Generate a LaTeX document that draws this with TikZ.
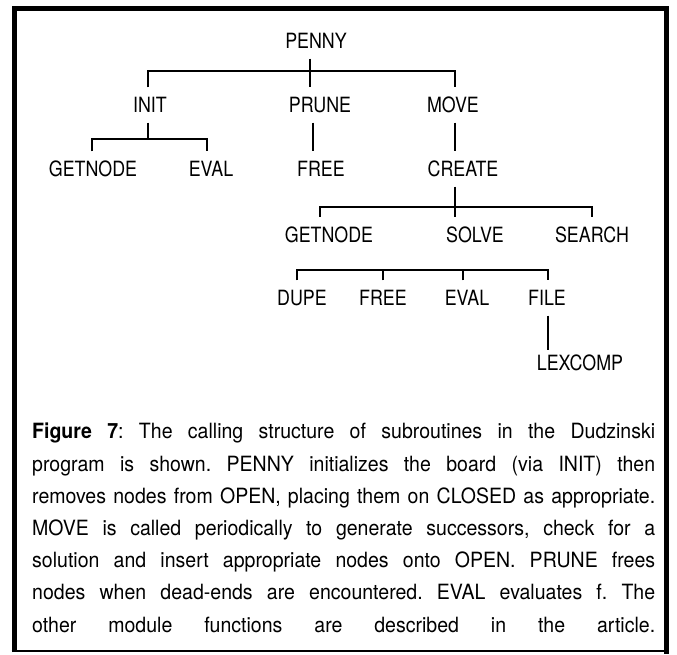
\documentclass[tikz,border=0pt]{standalone}
\usepackage{fontspec}
\newfontfamily\treefont[FakeStretch=0.85]{TeX Gyre Heros}
\newfontfamily\captfont[FakeStretch=0.93]{TeX Gyre Heros}
\usetikzlibrary{positioning}
\newcommand{\capline}[1]{\makebox[623pt][s]{#1}}

\begin{document}
\begin{tikzpicture}[x=1pt, y=-1pt,
  every node/.style={font=\treefont\fontsize{21}{21}\selectfont},
  routine/.style={inner xsep=2pt, inner ysep=10pt, text height=15pt, text depth=0pt},
  link/.style={line width=2.8pt},
  captext/.style={font=\captfont\fontsize{21}{32.2}\selectfont\frenchspacing,
                  align=left, inner sep=0pt, anchor=base west}
]
  \useasboundingbox (0,0) rectangle (677,654);

  % frame
  \draw[line width=5pt] (14,652) -- (14,8.5) -- (666.5,8.5) -- (666.5,654);
  \draw[line width=2pt] (11.5,651) -- (669,651);

  % calling tree
  \node[routine] (penny) at (316,41) {PENNY};

  \node[routine] (init)  at (150,105) {INIT};
  \node[routine] (prune) at (320,105) {PRUNE};
  \node[routine] (move)  at (453,105) {MOVE};

  \node[routine] (getnodeA) at (93,169)  {GETNODE};
  \node[routine] (evalA)    at (211,169) {EVAL};
  \node[routine] (freeA)    at (321,169) {FREE};
  \node[routine] (create)   at (463,169) {CREATE};

  \node[routine] (getnodeB) at (329,234.5) {GETNODE};
  \node[routine] (solve)    at (475,234.5) {SOLVE};
  \node[routine] (search)   at (592,234.5) {SEARCH};

  \node[routine] (dupe)  at (302,298) {DUPE};
  \node[routine] (freeB) at (383,298) {FREE};
  \node[routine] (evalB) at (467,298) {EVAL};
  \node[routine] (file)  at (547,298) {FILE};

  \node[routine] (lexcomp) at (580,363) {LEXCOMP};

  \coordinate (pennybar)  at (310,71);
  \coordinate (initbar)   at (148,139);
  \coordinate (createbar) at (455,207);
  \coordinate (solvebar)  at (420,270);

  \draw[link] ([xshift=-6pt]penny.south) -- ([xshift=-10pt]prune.north);
  \draw[link] ([xshift=-2pt]init.north) |- (pennybar) -| ([xshift=2pt]move.north);

  \draw[link] ([xshift=-2pt]init.south) -- (initbar);
  \draw[link] ([xshift=-1pt]getnodeA.north) |- (initbar) -| ([xshift=-4pt]evalA.north);
  \draw[link] ([xshift=-7pt]prune.south) -- ([xshift=-8pt]freeA.north);
  \draw[link] ([xshift=2pt]move.south) -- ([xshift=-8pt]create.north);

  \draw[link] ([xshift=-8pt]create.south) -- ([xshift=-20pt]solve.north);
  \draw[link] ([xshift=-9pt]getnodeB.north) |- (createbar) -| (search.north);

  \draw[link] ([xshift=-5pt]dupe.north) |- (solvebar) -| ([xshift=1pt]file.north);
  \draw[link] (freeB.north) |- (solvebar);
  \draw[link] ([xshift=-4pt]evalB.north) |- (solvebar);

  \draw[link] ([xshift=1pt]file.south) -- ([xshift=-32pt, yshift=-5pt]lexcomp.north);

  % caption (base anchor sits on the last line)
  \node[captext] (caption) at (32,632) {%
    \capline{\textbf{Figure 7}: The calling structure of subroutines in the Dudzinski}\\
    \capline{program is shown. PENNY initializes the board (via INIT) then}\\
    \capline{removes nodes from OPEN, placing them on CLOSED as appropriate.}\\
    \capline{MOVE is called periodically to generate successors, check for a}\\
    \capline{solution and insert appropriate nodes onto OPEN. PRUNE frees}\\
    \capline{nodes when dead-ends are encountered. EVAL evaluates f. The}\\
    \capline{other module functions are described in the article.}};
\end{tikzpicture}
\end{document}
